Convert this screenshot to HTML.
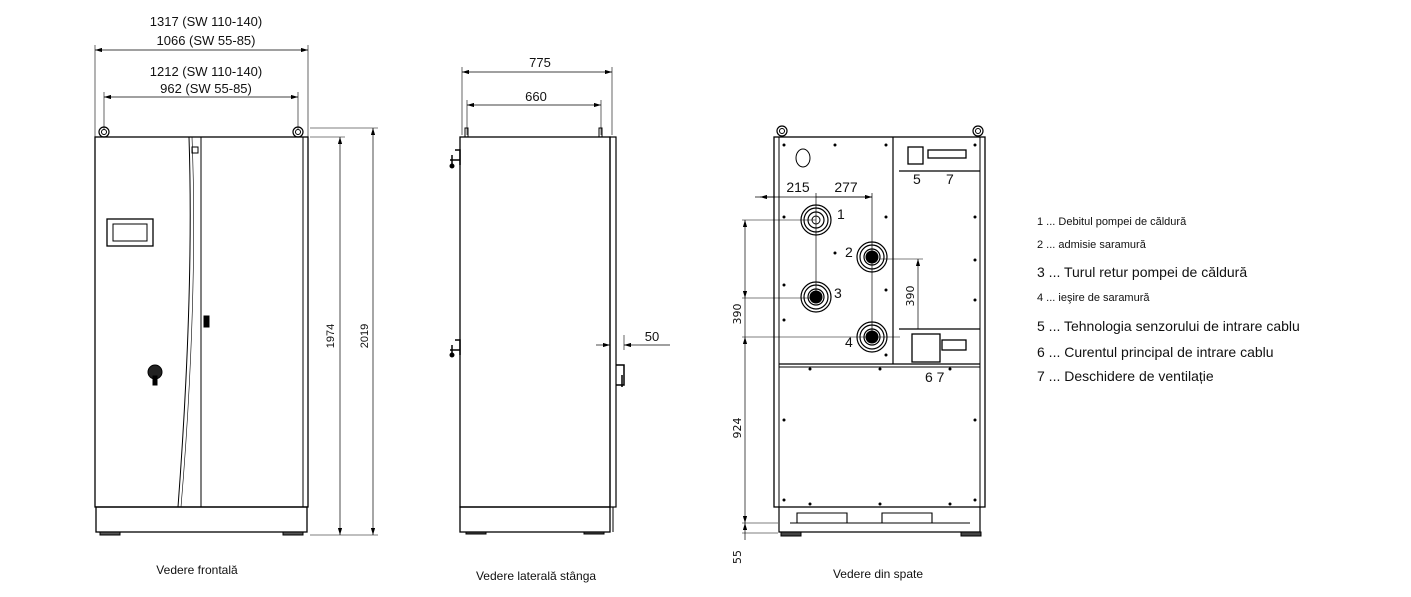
<!DOCTYPE html>
<html><head><meta charset="utf-8"><style>
body{margin:0;background:#fff}
svg{display:block}
text{font-family:"Liberation Sans",sans-serif;fill:#111}
.t{font-family:"DejaVu Sans",sans-serif}
</style></head><body>
<svg width="1411" height="597" viewBox="0 0 1411 597" xmlns="http://www.w3.org/2000/svg">
<defs>
<marker id="a" viewBox="0 0 10 6" refX="10" refY="3" markerWidth="10" markerHeight="6" orient="auto-start-reverse"><path d="M0,0 L10,3 L0,6z" fill="#000"/></marker>
</defs>
<g stroke="#000" fill="none" stroke-width="1">
<!-- FRONT VIEW -->
<line x1="95" y1="45" x2="95" y2="137" stroke-width="0.6"/>
<line x1="308" y1="45" x2="308" y2="137" stroke-width="0.6"/>
<line x1="95" y1="50" x2="308" y2="50" marker-start="url(#a)" marker-end="url(#a)" stroke-width="0.7"/>
<line x1="104" y1="92" x2="104" y2="130" stroke-width="0.6"/>
<line x1="298" y1="92" x2="298" y2="130" stroke-width="0.6"/>
<line x1="104" y1="97" x2="298" y2="97" marker-start="url(#a)" marker-end="url(#a)" stroke-width="0.7"/>
<circle cx="104" cy="132" r="5" stroke-width="1.2"/><circle cx="104" cy="132" r="2.5"/>
<circle cx="298" cy="132" r="5" stroke-width="1.2"/><circle cx="298" cy="132" r="2.5"/>
<rect x="95" y="137" width="213" height="370" stroke-width="1.3"/>
<line x1="303" y1="137" x2="303" y2="507"/>
<path d="M189,137 C193,260 186,400 178,507"/>
<path d="M192,137 C197,260 190,400 181,507" stroke-width="0.6"/>
<line x1="201" y1="137" x2="201" y2="507"/>
<rect x="192" y="147" width="6" height="6"/>
<rect x="107" y="219" width="46" height="27" stroke-width="1.3"/>
<rect x="113" y="224" width="34" height="17"/>
<rect x="204" y="316" width="5" height="11" fill="#000"/>
<circle cx="155" cy="372" r="7" fill="#222"/><rect x="153" y="376" width="4" height="9" fill="#000"/>
<rect x="96" y="507" width="211" height="25" stroke-width="1.3"/>
<rect x="100" y="532" width="20" height="3" fill="#555"/><rect x="283" y="532" width="20" height="3" fill="#555"/>
<line x1="310" y1="137" x2="345" y2="137" stroke-width="0.6"/>
<line x1="310" y1="128" x2="378" y2="128" stroke-width="0.6"/>
<line x1="310" y1="535" x2="378" y2="535" stroke-width="0.6"/>
<line x1="340" y1="137" x2="340" y2="535" marker-start="url(#a)" marker-end="url(#a)" stroke-width="0.7"/>
<line x1="373" y1="128" x2="373" y2="535" marker-start="url(#a)" marker-end="url(#a)" stroke-width="0.7"/>
<!-- SIDE VIEW -->
<line x1="462" y1="67" x2="462" y2="135" stroke-width="0.6"/>
<line x1="612" y1="67" x2="612" y2="135" stroke-width="0.6"/>
<line x1="462" y1="72" x2="612" y2="72" marker-start="url(#a)" marker-end="url(#a)" stroke-width="0.7"/>
<line x1="467" y1="100" x2="467" y2="135" stroke-width="0.6"/>
<line x1="601" y1="100" x2="601" y2="135" stroke-width="0.6"/>
<line x1="467" y1="105" x2="601" y2="105" marker-start="url(#a)" marker-end="url(#a)" stroke-width="0.7"/>
<rect x="465" y="128" width="3" height="9"/><rect x="599" y="128" width="3" height="9"/>
<rect x="460" y="137" width="150" height="370" stroke-width="1.3"/>
<rect x="610" y="137" width="6" height="370" stroke-width="1.2"/>
<rect x="460" y="507" width="150" height="25" stroke-width="1.3"/>
<line x1="613" y1="507" x2="613" y2="532"/>
<rect x="466" y="532" width="20" height="2" fill="#444"/><rect x="584" y="532" width="20" height="2" fill="#444"/>
<path d="M450,160 h10 M452,155 v12 M455,150 h5 v15" stroke-width="1.5"/>
<circle cx="452" cy="166" r="2" fill="#000"/>
<path d="M450,350 h10 M452,345 v12 M455,340 h5 v15" stroke-width="1.5"/>
<circle cx="452" cy="355" r="2" fill="#000"/>
<path d="M616,365 h8 v20 h-8 M622,375 v12" stroke-width="1.5"/>
<line x1="624" y1="335" x2="624" y2="350" stroke-width="0.6"/>
<line x1="596" y1="345" x2="610" y2="345" marker-end="url(#a)" stroke-width="0.7"/>
<line x1="640" y1="345" x2="624" y2="345" marker-end="url(#a)" stroke-width="0.7"/>
<line x1="640" y1="345" x2="670" y2="345" stroke-width="0.7"/>
<!-- BACK VIEW -->
<circle cx="782" cy="131" r="5" stroke-width="1.2"/><circle cx="782" cy="131" r="2.5"/>
<circle cx="978" cy="131" r="5" stroke-width="1.2"/><circle cx="978" cy="131" r="2.5"/>
<rect x="774" y="137" width="211" height="370" stroke-width="1.3"/>
<rect x="779" y="137" width="201" height="370"/>
<line x1="893" y1="137" x2="893" y2="364" stroke-width="1.2"/>
<line x1="899" y1="171" x2="980" y2="171" stroke-width="1.2"/>
<line x1="899" y1="329" x2="980" y2="329" stroke-width="1.2"/>
<line x1="779" y1="364" x2="980" y2="364" stroke-width="1.2"/>
<line x1="779" y1="367" x2="980" y2="367"/>
<ellipse cx="803" cy="158" rx="7" ry="9"/>
<rect x="908" y="147" width="15" height="17" stroke-width="1.3"/>
<rect x="928" y="150" width="38" height="8" stroke-width="1.3"/>
<rect x="912" y="334" width="28" height="28" stroke-width="1.3"/>
<rect x="942" y="340" width="24" height="10" stroke-width="1.3"/>
<g stroke-width="1.2">
<circle cx="816" cy="220" r="15"/><circle cx="816" cy="220" r="12"/><circle cx="816" cy="220" r="8"/>
<circle cx="816" cy="297" r="15"/><circle cx="816" cy="297" r="12"/><circle cx="816" cy="297" r="8"/>
<circle cx="872" cy="257" r="15"/><circle cx="872" cy="257" r="12"/><circle cx="872" cy="257" r="8"/>
<circle cx="872" cy="337" r="15"/><circle cx="872" cy="337" r="12"/><circle cx="872" cy="337" r="8"/>
</g>
<circle cx="816" cy="220" r="4"/><circle cx="816" cy="297" r="6" fill="#000"/>
<circle cx="872" cy="257" r="6" fill="#000"/><circle cx="872" cy="337" r="6" fill="#000"/>
<line x1="816" y1="193" x2="816" y2="297" stroke-width="0.7"/>
<line x1="872" y1="193" x2="872" y2="337" stroke-width="0.7"/>
<line x1="755" y1="197" x2="872" y2="197" stroke-width="0.7"/>
<line x1="760" y1="197" x2="775" y2="197" marker-start="url(#a)" stroke-width="0.7"/>
<line x1="816" y1="197" x2="872" y2="197" marker-end="url(#a)" stroke-width="0.7"/>
<line x1="742" y1="220" x2="816" y2="220" stroke-width="0.6"/>
<line x1="742" y1="298" x2="816" y2="298" stroke-width="0.6"/>
<line x1="742" y1="337" x2="900" y2="337" stroke-width="0.6"/>
<line x1="745" y1="220" x2="745" y2="298" marker-start="url(#a)" marker-end="url(#a)" stroke-width="0.7"/>
<line x1="745" y1="298" x2="745" y2="337" stroke-width="0.7"/>
<line x1="745" y1="337" x2="745" y2="523" marker-start="url(#a)" marker-end="url(#a)" stroke-width="0.7"/>
<line x1="745" y1="523" x2="745" y2="540" marker-start="url(#a)" stroke-width="0.7"/>
<line x1="742" y1="523" x2="778" y2="523" stroke-width="0.6"/>
<line x1="742" y1="533" x2="778" y2="533" stroke-width="0.6"/>
<line x1="880" y1="259" x2="923" y2="259" stroke-width="0.6"/>
<line x1="918" y1="259" x2="918" y2="329" marker-start="url(#a)" stroke-width="0.7"/>
<path d="M779,507 v25 h201 v-25" stroke-width="1.2"/>
<path d="M797,523 V513 H847 V523 H882 V513 H932 V523" stroke-width="1.1"/>
<line x1="790" y1="523" x2="970" y2="523" stroke-width="1"/>
<rect x="781" y="532" width="20" height="4" fill="#444"/><rect x="961" y="532" width="20" height="4" fill="#444"/>
</g>
<g fill="#000">
<circle cx="784" cy="145" r="1.5"/><circle cx="835" cy="145" r="1.5"/><circle cx="886" cy="145" r="1.5"/><circle cx="975" cy="145" r="1.5"/>
<circle cx="784" cy="217" r="1.5"/><circle cx="886" cy="217" r="1.5"/><circle cx="975" cy="217" r="1.5"/>
<circle cx="784" cy="285" r="1.5"/><circle cx="835" cy="253" r="1.5"/><circle cx="886" cy="290" r="1.5"/><circle cx="975" cy="260" r="1.5"/>
<circle cx="784" cy="320" r="1.5"/><circle cx="886" cy="355" r="1.5"/><circle cx="975" cy="300" r="1.5"/>
<circle cx="784" cy="420" r="1.5"/><circle cx="784" cy="500" r="1.5"/><circle cx="975" cy="420" r="1.5"/><circle cx="975" cy="500" r="1.5"/>
<circle cx="810" cy="504" r="1.5"/><circle cx="880" cy="504" r="1.5"/><circle cx="950" cy="504" r="1.5"/>
<circle cx="810" cy="369" r="1.5"/><circle cx="880" cy="369" r="1.5"/><circle cx="950" cy="369" r="1.5"/>
</g>
<g class="t" font-size="13">
<text x="206" y="26" text-anchor="middle">1317 (SW 110-140)</text>
<text x="206" y="45" text-anchor="middle">1066 (SW 55-85)</text>
<text x="206" y="76" text-anchor="middle">1212 (SW 110-140)</text>
<text x="206" y="93" text-anchor="middle">962 (SW 55-85)</text>
<text x="540" y="67" text-anchor="middle">775</text>
<text x="536" y="101" text-anchor="middle">660</text>
<text x="652" y="341" text-anchor="middle">50</text>
<text x="798" y="192" text-anchor="middle" font-size="14">215</text>
<text x="846" y="192" text-anchor="middle" font-size="14">277</text>
<text x="837" y="219" font-size="14">1</text>
<text x="845" y="257" font-size="14">2</text>
<text x="834" y="298" font-size="14">3</text>
<text x="845" y="347" font-size="14">4</text>
<text x="913" y="184" font-size="14">5</text>
<text x="946" y="184" font-size="14">7</text>
<text x="925" y="382" font-size="14">6 7</text>
</g>
<g font-size="11">
<text transform="translate(334,336) rotate(-90)" text-anchor="middle">1974</text>
<text transform="translate(368,336) rotate(-90)" text-anchor="middle">2019</text>
<text transform="translate(741,314) rotate(-90)" text-anchor="middle" class="t">390</text>
<text transform="translate(914,296) rotate(-90)" text-anchor="middle" class="t">390</text>
<text transform="translate(741,428) rotate(-90)" text-anchor="middle" class="t">924</text>
<text transform="translate(741,557) rotate(-90)" text-anchor="middle" class="t">55</text>
</g>
<g class="t" font-size="12">
<text x="197" y="574" text-anchor="middle">Vedere frontală</text>
<text x="536" y="580" text-anchor="middle">Vedere laterală stânga</text>
<text x="878" y="578" text-anchor="middle">Vedere din spate</text>
</g>
<g class="t">
<text x="1037" y="225" font-size="11">1 ... Debitul pompei de căldură</text>
<text x="1037" y="248" font-size="11">2 ... admisie saramură</text>
<text x="1037" y="277" font-size="14">3 ... Turul retur pompei de căldură</text>
<text x="1037" y="301" font-size="11">4 ... ieşire de saramură</text>
<text x="1037" y="331" font-size="14">5 ... Tehnologia senzorului de intrare cablu</text>
<text x="1037" y="357" font-size="14">6 ... Curentul principal de intrare cablu</text>
<text x="1037" y="381" font-size="14">7 ... Deschidere de ventilație</text>
</g>
</svg>
</body></html>
